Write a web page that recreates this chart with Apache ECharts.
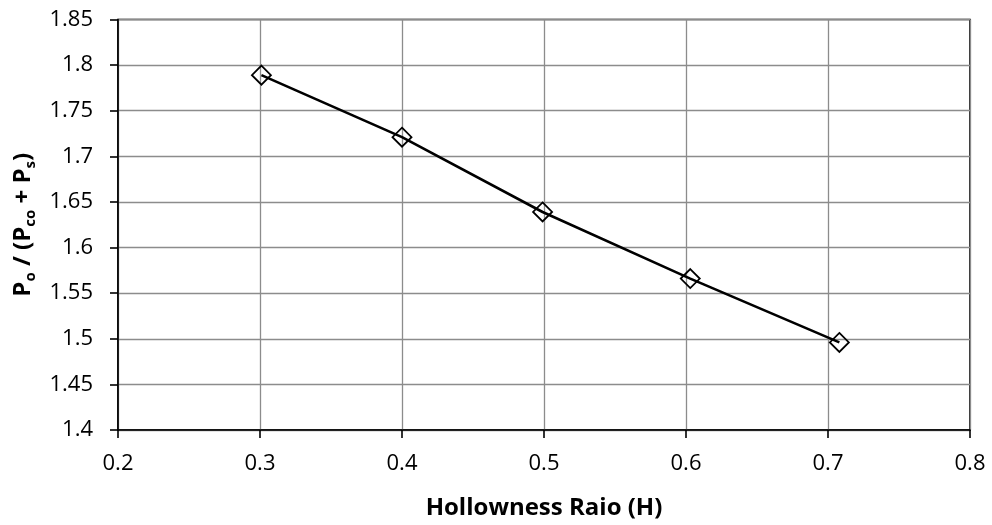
<!DOCTYPE html>
<html>
<head>
<meta charset="utf-8">
<script src="https://cdn.jsdelivr.net/npm/echarts@6/dist/echarts.min.js"></script>
<style>
  html, body { margin: 0; padding: 0; background: #fff; }
  #chart { width: 992px; height: 525px; }
</style>
</head>
<body>
<div id="chart"></div>
<script>
// Hollowness ratio vs. normalised capacity
const hollownessRatio = [0.301, 0.400, 0.499, 0.603, 0.708];
const capacityRatio   = [1.789, 1.721, 1.639, 1.566, 1.496];

const xTickLabels = ['0.2', '0.3', '0.4', '0.5', '0.6', '0.7', '0.8'];
const yTickLabels = ['1.4', '1.45', '1.5', '1.55', '1.6', '1.65', '1.7', '1.75', '1.8', '1.85'];

const xMin = 0.2, xMax = 0.8, xStep = 0.1;
const yMin = 1.4, yMax = 1.85, yStep = 0.05;

const FONT = '"Open Sans", "Liberation Sans", sans-serif';

function labelFor(list, min, step) {
  return function (v) {
    const i = Math.round((v - min) / step);
    return list[i] !== undefined ? list[i] : '';
  };
}

const chart = echarts.init(document.getElementById('chart'), null, { renderer: 'canvas' });

chart.setOption({
  backgroundColor: '#ffffff',
  animation: false,
  grid: {
    left: 118, right: 22, top: 19.5, bottom: 94,
    show: true, borderColor: '#000', borderWidth: 1.6, backgroundColor: 'transparent'
  },
  xAxis: {
    type: 'value',
    min: xMin, max: xMax, interval: xStep,
    name: 'Hollowness Raio (H)',
    nameLocation: 'middle',
    nameGap: 66,
    nameTextStyle: { fontFamily: FONT, fontWeight: 'bold', fontSize: 24, color: '#000' },
    axisLine: { show: true, lineStyle: { color: '#000', width: 1.6 } },
    axisTick: { show: true, inside: false, length: 8, lineStyle: { color: '#000', width: 1.6 } },
    axisLabel: {
      margin: 23, fontFamily: FONT, fontSize: 22, color: '#000',
      formatter: labelFor(xTickLabels, xMin, xStep)
    },
    splitLine: { show: true, lineStyle: { color: '#8c8c8c', width: 1.3 } }
  },
  yAxis: {
    type: 'value',
    min: yMin, max: yMax, interval: yStep,
    name: '{b|P}{s|o}{b| / (P}{s|co}{b| + P}{s|s}{b|)}',
    nameLocation: 'middle',
    nameRotate: 90,
    nameGap: 77,
    nameTextStyle: {
      fontFamily: FONT, fontWeight: 'bold', fontSize: 24, color: '#000',
      rich: {
        b: { fontFamily: FONT, fontWeight: 'bold', fontSize: 24, color: '#000', lineHeight: 30, verticalAlign: 'middle' },
        s: { fontFamily: FONT, fontWeight: 'bold', fontSize: 15, color: '#000', lineHeight: 16, verticalAlign: 'bottom' }
      }
    },
    axisLine: { show: true, lineStyle: { color: '#000', width: 1.6 } },
    axisTick: { show: true, inside: false, length: 8, lineStyle: { color: '#000', width: 1.6 } },
    axisLabel: {
      margin: 25, fontFamily: FONT, fontSize: 22, color: '#000',
      formatter: labelFor(yTickLabels, yMin, yStep)
    },
    splitLine: { show: true, lineStyle: { color: '#8c8c8c', width: 1.3 } }
  },
  series: [{
    type: 'line',
    data: hollownessRatio.map((h, i) => [h, capacityRatio[i]]),
    lineStyle: { color: '#000', width: 2.6 },
    symbol: 'diamond',
    symbolSize: 19,
    showAllSymbol: true,
    itemStyle: { color: 'rgba(255,255,255,0)', borderColor: '#000', borderWidth: 1.8 },
    z: 5
  }]
});
</script>
</body>
</html>
